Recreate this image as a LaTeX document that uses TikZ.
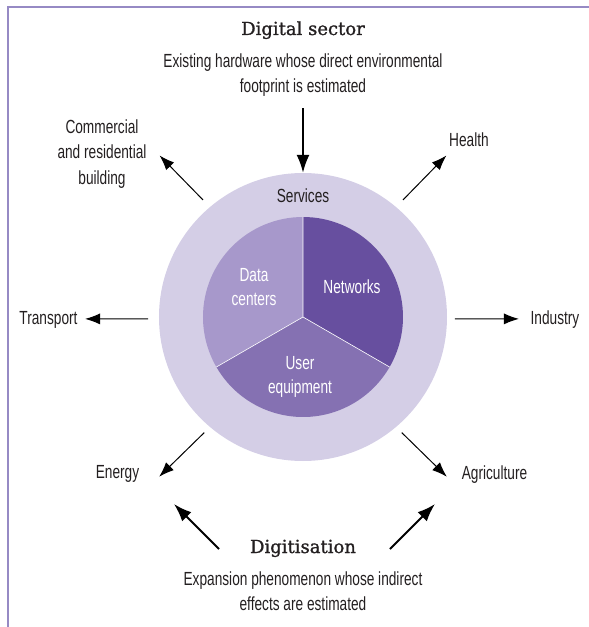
\documentclass[tikz,border=0pt]{standalone}
\usepackage{fontspec}
\setmainfont{Liberation Sans}[FakeStretch=0.72]
\newfontfamily\slabfont{DejaVu Serif}[FakeBold=1.2]
\usepackage{tikz}
\usetikzlibrary{arrows.meta, positioning}
\definecolor{ringcol}{HTML}{D4CEE6}
\definecolor{netcol}{HTML}{674F9F}
\definecolor{dccol}{HTML}{A798CB}
\definecolor{uecol}{HTML}{8571B2}
\definecolor{framecol}{HTML}{968AC4}
\definecolor{inkcol}{HTML}{231F20}
\tikzstyle{heading}=[inner sep=0pt, text=inkcol, font=\slabfont\fontsize{18}{22}\selectfont]
\tikzstyle{blurb}=[inner sep=0pt, align=center, text=inkcol, font=\fontsize{19}{25}\selectfont]
\tikzstyle{field}=[inner sep=0pt, align=center, text=inkcol, font=\fontsize{19}{25.5}\selectfont]
\tikzstyle{inpart}=[inner sep=0pt, align=center, text=white, font=\fontsize{19}{24}\selectfont]
\tikzstyle{thinarrow}=[draw=black, line width=1pt, -{Latex[length=15pt, width=11pt]}]
\tikzstyle{bigarrow}=[draw=black, line width=2pt, -{Latex[length=18pt, width=13pt]}]

\begin{document}
\begin{tikzpicture}[x=1pt, y=1pt]
  \useasboundingbox (-303,-310) rectangle (286,317);
  \draw[framecol, line width=2pt] (-295,-312) -- (-295,310.3) -- (288,310.3);

  % outer ring and the three parts
  \node[circle, fill=ringcol, minimum size=288pt, inner sep=0pt] (ring) at (0,0) {};
  \fill[netcol] (0,0) -- (90:100) arc (90:-30:100) -- cycle;
  \fill[dccol] (0,0) -- (90:100) arc (90:210:100) -- cycle;
  \fill[uecol] (0,0) -- (210:100) arc (210:330:100) -- cycle;
  \draw[white, line width=0.6pt] (0,0) -- (90:100) (0,0) -- (210:100) (0,0) -- (330:100);

  \node[field, anchor=base] (services) at (0,114) {Services};
  \node[inpart, anchor=base] (networks) at (49,24) {Networks};
  \node[inpart] (centers) at (-49,29.5) {Data\\centers};
  \node[inpart] (equipment) at (-3,-60) {User\\equipment};

  % top and bottom
  \node[heading, anchor=base] (sector) at (0,282) {Digital sector};
  \node[blurb] (existing) at (0,241.5) {Existing hardware whose direct environmental\\footprint is estimated};
  \node[heading, anchor=base] (digitisation) at (0,-236) {Digitisation};
  \node[blurb] (expansion) at (0,-274) {Expansion phenomenon whose indirect\\effects are estimated};

  % fields around
  \node[field] (building) at (-201,163) {Commercial\\and residential\\building};
  \node[field, anchor=base] (health) at (166,170) {Health};
  \node[field, anchor=base] (transport) at (-254.5,-7) {Transport};
  \node[field, anchor=base] (industry) at (252,-7) {Industry};
  \node[field, anchor=base] (energy) at (-185.5,-161) {Energy};
  \node[field, anchor=base] (agriculture) at (191.5,-162) {Agriculture};

  \coordinate (bA) at (130.5:154); \coordinate (bB) at (131.6:216);
  \coordinate (hA) at (49.5:154);  \coordinate (hB) at (48.4:216);
  \coordinate (tA) at (180.7:155); \coordinate (tB) at (180.5:218);
  \coordinate (iA) at (-0.7:152);  \coordinate (iB) at (-0.5:216);
  \coordinate (eA) at (229.5:152); \coordinate (eB) at (228:215);
  \coordinate (aA) at (-49.5:152); \coordinate (aB) at (-48:215);
  \coordinate (dL) at (-84,-232);  \coordinate (dLt) at (-129,-187);
  \coordinate (dR) at (87,-232);   \coordinate (dRt) at (132,-187);

  \draw[bigarrow, shorten <=11pt] (existing.south) -- (ring.north);
  \draw[thinarrow] (bA) -- (bB);
  \draw[thinarrow] (hA) -- (hB);
  \draw[thinarrow] (tA) -- (tB);
  \draw[thinarrow] (iA) -- (iB);
  \draw[thinarrow] (eA) -- (eB);
  \draw[thinarrow] (aA) -- (aB);
  \draw[bigarrow] (dL) -- (dLt);
  \draw[bigarrow] (dR) -- (dRt);
\end{tikzpicture}
\end{document}
